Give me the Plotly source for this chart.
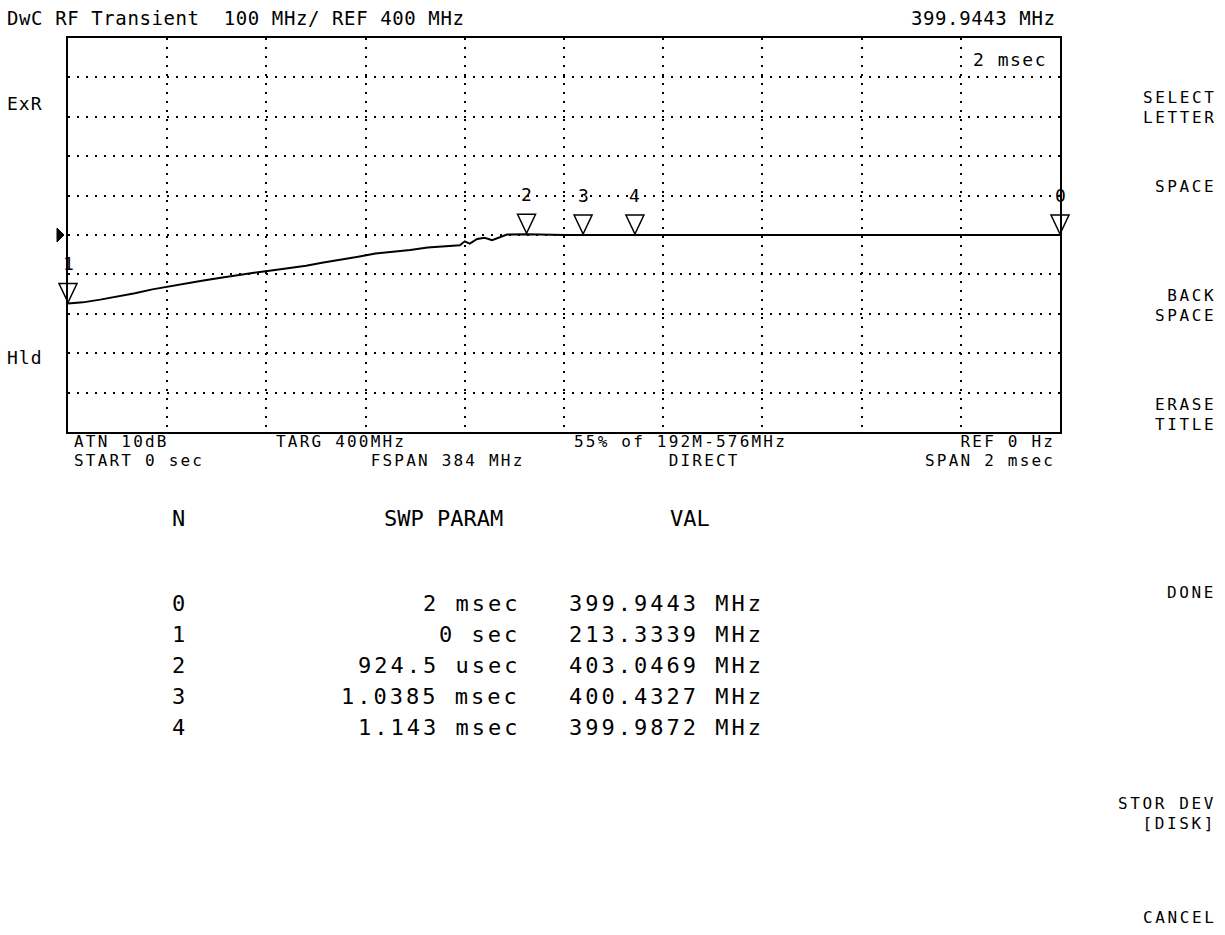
import numpy as np
import plotly.graph_objects as go

# ---- data ----
trace_t = [0.000, 0.030, 0.065, 0.100, 0.135, 0.170, 0.200, 0.235, 0.270, 0.305, 0.340,
           0.375, 0.410, 0.445, 0.480, 0.515, 0.550, 0.585, 0.620, 0.655, 0.690, 0.725,
           0.760, 0.790, 0.800, 0.810, 0.825, 0.840, 0.855, 0.870, 0.885, 0.925, 1.000,
           1.300, 1.600, 2.000]
trace_v = [226, 229, 236, 244, 252, 262, 269, 276, 284, 291, 298,
           304, 310, 316, 322, 330, 337, 345, 353, 357, 362, 368,
           371, 374, 384, 378, 390, 393, 387, 395, 401, 402, 400,
           400, 400, 400]

marker_n = ["0", "1", "2", "3", "4"]
marker_t = [2.0, 0.0, 0.9245, 1.0385, 1.143]          # msec
marker_t_label = ["2 msec", "0 sec", "924.5 usec", "1.0385 msec", "1.143 msec"]
marker_val_label = ["399.9443 MHz", "213.3339 MHz", "403.0469 MHz", "400.4327 MHz", "399.9872 MHz"]

X_RANGE = [0, 2]
Y_RANGE = [-100, 900]
REF_LEVEL = 400

header_left = "DwC RF Transient  100 MHz/ REF 400 MHz"
header_right = "399.9443 MHz"
# (line1, line2, x, anchor, indent of line2 in characters)
bottom_cols = [("ATN 10dB", "START 0 sec", 72, "left", 0),
               ("TARG 400MHz", "FSPAN 384 MHz", 274, "left", 8),
               ("55% of 192M-576MHz", "DIRECT", 572, "left", 8),
               ("REF 0 Hz", "SPAN 2 msec", 1057, "right", 0)]
softkeys = [(["SELECT", "LETTER"], 108), (["SPACE"], 186), (["BACK", "SPACE"], 305),
            (["ERASE", "TITLE"], 414), (["DONE"], 592), (["STOR DEV", "[DISK]"], 813),
            (["CANCEL"], 917)]

# ---- geometry ----
W, H = 1225, 935
X0, X1, Y0, Y1 = 68, 1060, 38, 432
def px(x): return (x - X0) / (X1 - X0)
def py(y): return (Y1 - y) / (Y1 - Y0)
def xp(t): return (t - X_RANGE[0]) / (X_RANGE[1] - X_RANGE[0])
def yp(v): return (v - Y_RANGE[0]) / (Y_RANGE[1] - Y_RANGE[0])

FONT = "DejaVu Sans Mono"
NB = "\u00a0"

def span(s, size, ls):
    return "<span style='font-size:%spx;letter-spacing:%spx'>%s</span>" % (size, ls, s.replace(" ", NB))

fig = go.Figure()
fig.add_trace(go.Scatter(x=trace_t, y=trace_v, mode="lines",
                         line=dict(color="black", width=2), hoverinfo="skip"))

shapes = []
annotations = []
# marker triangles (tip on trace)
for n, t in zip(marker_n, marker_t):
    v = float(np.interp(t, trace_t, trace_v))
    shapes.append(dict(type="path", xref="paper", yref="paper", xsizemode="pixel", ysizemode="pixel",
                       xanchor=xp(t), yanchor=yp(v), path="M-9,20 L9,20 L0,1 Z",
                       line=dict(color="black", width=1.5), fillcolor="rgba(0,0,0,0)"))
    annotations.append(dict(x=xp(t), y=yp(v), xref="paper", yref="paper", text=n, showarrow=False,
                            yshift=40, xanchor="center", yanchor="middle",
                            font=dict(family=FONT, size=18, color="black")))
# reference level arrow
shapes.append(dict(type="path", xref="paper", yref="paper", xsizemode="pixel", ysizemode="pixel",
                   xanchor=0, yanchor=yp(REF_LEVEL), path="M-11,-7 L-11,7 L-4,0 Z",
                   line=dict(color="black", width=1), fillcolor="black"))

def txt(s, x, y, anchor="left", size=19, ls=0.0):
    annotations.append(dict(x=px(x), y=py(y), xref="paper", yref="paper", text=span(s, size, ls),
                            showarrow=False, xanchor=anchor, yanchor="middle", align=anchor,
                            font=dict(family=FONT, size=size, color="black")))

txt(header_left, 5, 18, "left", 19, 0.6)
txt(header_right, 1057, 18, "right", 19, 0.6)
txt("2 msec", 1049, 60, "right", 18, 1.5)
txt("ExR", 5, 103, "left", 18, 1.0)
txt("Hld", 5, 357, "left", 18, 1.0)

for l1, l2, x, a, ind in bottom_cols:
    text = span(l1, 16, 2.2) + "<br>" + span(NB * ind + l2, 16, 2.2)
    annotations.append(dict(x=px(x), y=py(451), xref="paper", yref="paper", text=text,
                            showarrow=False, xanchor=a, yanchor="middle", align=a,
                            font=dict(family=FONT, size=14.5, color="black")))

for lines, y in softkeys:
    text = "<br>".join(span(s, 16, 2.6) for s in lines)
    annotations.append(dict(x=px(1218), y=py(y), xref="paper", yref="paper", text=text,
                            showarrow=False, xanchor="right", yanchor="middle", align="right",
                            font=dict(family=FONT, size=15, color="black")))

# table
txt("N", 178, 518, "center", 22, 0)
txt("SWP PARAM", 443, 518, "center", 22, 0)
txt("VAL", 690, 518, "center", 22, 0)
for i, (n, tl, vl) in enumerate(zip(marker_n, marker_t_label, marker_val_label)):
    y = 603 + i * 31
    txt(n, 178, y, "center", 22, 0)
    txt(tl, 522, y, "right", 22, 3)
    txt(vl, 567, y, "left", 22, 3)

axis_common = dict(showline=True, linewidth=2, linecolor="black", mirror=True,
                   showgrid=True, gridcolor="black", gridwidth=1.5, griddash="2px,7px",
                   zeroline=False, showticklabels=False, ticks="", fixedrange=True)
fig.update_layout(
    width=W, height=H,
    margin=dict(l=X0, r=W - X1, t=Y0, b=H - Y1),
    paper_bgcolor="white", plot_bgcolor="white", showlegend=False,
    xaxis=dict(range=X_RANGE, dtick=0.2, **axis_common),
    yaxis=dict(range=Y_RANGE, dtick=100, **axis_common),
    shapes=shapes, annotations=annotations,
)
fig.write_html("out.html", config={"displayModeBar": False},
               post_script="document.body.style.margin='0px';document.body.style.overflow='hidden';")
